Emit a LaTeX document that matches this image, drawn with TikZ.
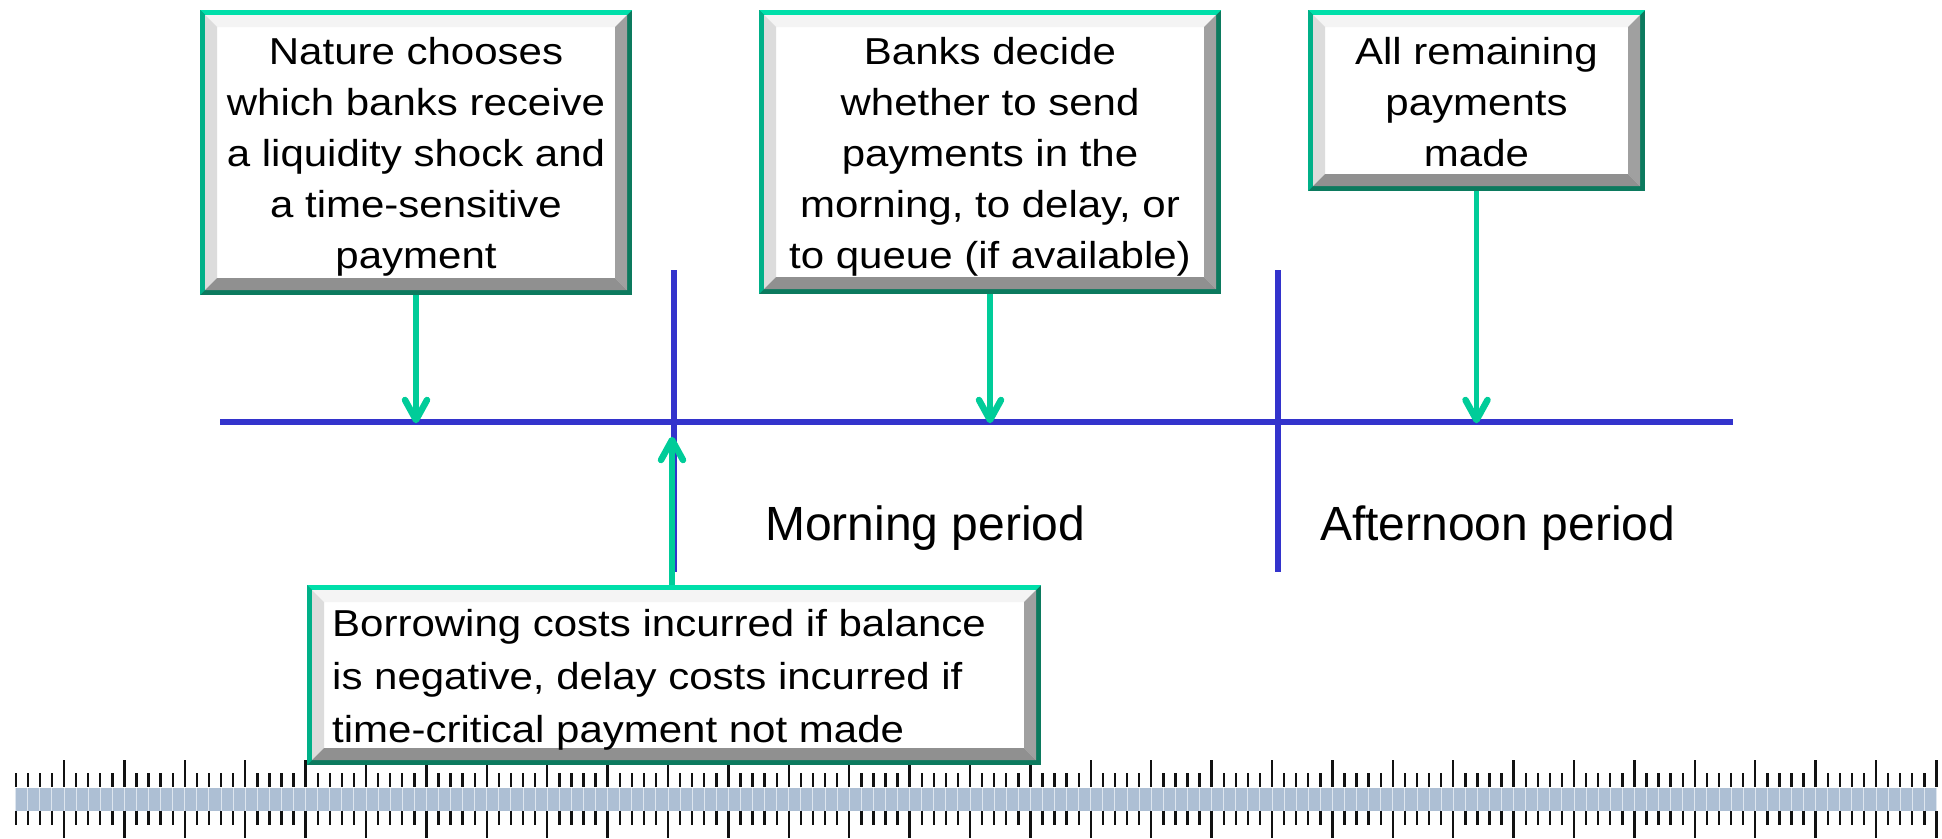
\documentclass[tikz,border=0pt]{standalone}
\usepackage{fontspec}
\setmainfont{Liberation Sans}
\newfontfamily\bxfont[FakeStretch=1.12]{Liberation Sans}
\usetikzlibrary{arrows.meta}
\definecolor{garrow}{HTML}{00CC99}
\definecolor{gtop}{HTML}{00DFAA}
\definecolor{gleft}{HTML}{00B088}
\definecolor{gdark}{HTML}{0C7A5E}
\definecolor{bevT}{HTML}{F4F4F4}
\definecolor{bevL}{HTML}{DCDCDC}
\definecolor{bevR}{HTML}{A0A0A0}
\definecolor{bevB}{HTML}{909090}
\definecolor{tblue}{HTML}{3333CC}
\definecolor{rband}{HTML}{ADBFD4}
\definecolor{rline}{HTML}{DDE5EE}
\definecolor{rtick}{HTML}{111111}
\tikzset{
  bevbox/.style={rectangle, inner sep=0pt, fill=white, path picture={
    \path (path picture bounding box.north west) coordinate (NW)
          (path picture bounding box.north east) coordinate (NE)
          (path picture bounding box.south west) coordinate (SW)
          (path picture bounding box.south east) coordinate (SE);
    \fill[gdark] (NW) rectangle (SE);
    \fill[gtop] (NW) -- (NE) -- ([shift={(-5pt,-5pt)}]NE) -- ([shift={(5pt,-5pt)}]NW) -- cycle;
    \fill[gleft] (NW) -- ([shift={(5pt,-5pt)}]NW) -- ([shift={(5pt,5pt)}]SW) -- (SW) -- cycle;
    \fill[white] ([shift={(5pt,-5pt)}]NW) rectangle ([shift={(-5pt,5pt)}]SE);
    \fill[bevT] ([shift={(5pt,-5pt)}]NW) -- ([shift={(-5pt,-5pt)}]NE) -- ([shift={(-17pt,-17pt)}]NE) -- ([shift={(17pt,-17pt)}]NW) -- cycle;
    \fill[bevL] ([shift={(5pt,-5pt)}]NW) -- ([shift={(17pt,-17pt)}]NW) -- ([shift={(17pt,17pt)}]SW) -- ([shift={(5pt,5pt)}]SW) -- cycle;
    \fill[bevR] ([shift={(-5pt,-5pt)}]NE) -- ([shift={(-5pt,5pt)}]SE) -- ([shift={(-17pt,17pt)}]SE) -- ([shift={(-17pt,-17pt)}]NE) -- cycle;
    \fill[bevB] ([shift={(5pt,5pt)}]SW) -- ([shift={(-5pt,5pt)}]SE) -- ([shift={(-17pt,17pt)}]SE) -- ([shift={(17pt,17pt)}]SW) -- cycle;
  }},
  btext/.style={inner sep=0pt, font=\bxfont\fontsize{37.5}{51}\selectfont},
  btextb/.style={inner sep=0pt, font=\bxfont\fontsize{37.5}{53}\selectfont},
  plabel/.style={inner sep=0pt, font=\fontsize{48}{58}\selectfont},
  bline/.style={draw=tblue, line width=6.3pt},
  gstem/.style={draw=garrow, line width=5.3pt},
  gtip/.style={draw=garrow, line width=6.5pt, line cap=round, line join=round},
  rtk/.style={draw=rtick, line width=2.4pt},
}
\begin{document}
\begin{tikzpicture}[x=1pt,y=-1pt]
\useasboundingbox (0,0) rectangle (1942,838);

% ruler
\fill[rband] (15.7,788) rectangle (1936.5,811);
\foreach \i in {0,...,159} {
  \pgfmathsetmacro\xx{15.7+\i*12.08}
  \pgfmathtruncatemacro\mj{mod(\i,5)==4 ? 1 : 0}
  \draw[rline, line width=1pt] (\xx,788) -- (\xx,811);
  \ifnum\mj=1
    \draw[rtk] (\xx,760) -- (\xx,787) (\xx,811) -- (\xx,838);
  \else
    \draw[rtk] (\xx,773) -- (\xx,787) (\xx,811) -- (\xx,825);
  \fi
}

% timeline
\coordinate (tl) at (220,422);
\coordinate (tr) at (1733,422);
\coordinate (v1t) at (674,270);
\coordinate (v1b) at (674,572);
\coordinate (v2t) at (1278,270);
\coordinate (v2b) at (1278,572);
\draw[bline] (tl) -- (tr);
\draw[bline] (v1t) -- (v1b);
\draw[bline] (v2t) -- (v2b);

% boxes
\node[bevbox, minimum width=432pt, minimum height=285pt] (b1) at (416,152.5) {};
\node[bevbox, minimum width=462pt, minimum height=284pt] (b2) at (990,152) {};
\node[bevbox, minimum width=337pt, minimum height=181pt] (b3) at (1476.5,100.5) {};
\node[bevbox, minimum width=734pt, minimum height=180pt] (b4) at (674,675) {};

\node[btext, anchor=base] (t1) at (416,64) {\begin{tabular}[t]{@{}c@{}}Nature chooses\\ which banks receive\\ a liquidity shock and\\ a time-sensitive\\ payment\end{tabular}};
\node[btext, anchor=base] (t2) at (990,64) {\begin{tabular}[t]{@{}c@{}}Banks decide\\ whether to send\\ payments in the\\ morning, to delay, or\\ to queue (if available)\end{tabular}};
\node[btext, anchor=base] (t3) at (1476.5,64) {\begin{tabular}[t]{@{}c@{}}All remaining\\ payments\\ made\end{tabular}};
\node[btextb, anchor=base west] (t4) at (332,636) {\begin{tabular}[t]{@{}l@{}}Borrowing costs incurred if balance\\ is negative, delay costs incurred if\\ time-critical payment not made\end{tabular}};

% period labels
\node[plabel, anchor=base west] (morning) at (765,540) {Morning period};
\node[plabel, anchor=base west] (afternoon) at (1320,540) {Afternoon period};

% arrows
\coordinate (p1) at (416,420);
\coordinate (p2) at (990,420);
\coordinate (p3) at (1476.5,420);
\coordinate (p4) at (672,440);
\draw[gstem] (b1.south) -- (p1);
\draw[gstem] (b2.south) -- (p2);
\draw[gstem] (b3.south) -- (p3);
\draw[gstem] (p4 |- b4.north) -- (p4);
\foreach \p in {p1,p2,p3} {
  \draw[gtip] ([shift={(-11pt,20pt)}]\p) -- (\p) -- ([shift={(11pt,20pt)}]\p);
}
\draw[gtip] ([shift={(-11pt,-20pt)}]p4) -- (p4) -- ([shift={(11pt,-20pt)}]p4);
\end{tikzpicture}
\end{document}
